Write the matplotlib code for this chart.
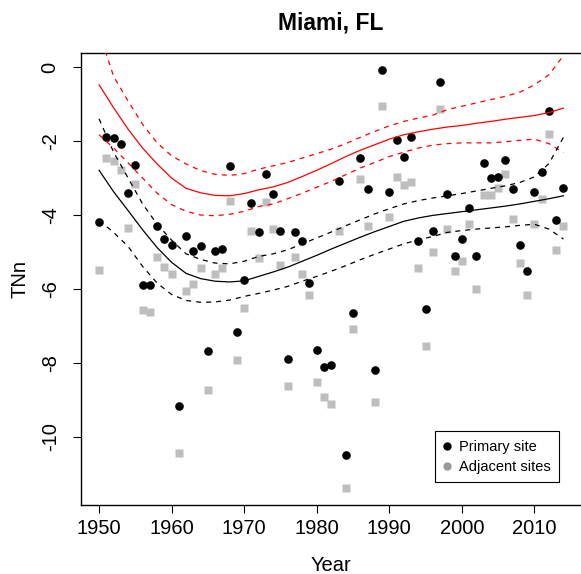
import numpy as np
import matplotlib
matplotlib.use("Agg")
import matplotlib.pyplot as plt

plt.rcParams["font.family"] = ["Liberation Sans", "DejaVu Sans"]

OUT_PNG = "out.png"

# Observed TNn per year
years = np.arange(1950, 2015)
primary = [
    -4.20, -1.88, -1.91, -2.07, -3.41, -2.65, -5.90, -5.90, -4.31, -4.65,
    -4.81, -9.15, -4.57, -4.98, -4.84, -7.69, -4.96, -4.92, -2.67, -7.15,
    -5.76, -3.67, -4.47, -2.88, -3.43, -4.42, -7.89, -4.47, -4.70, -5.85,
    -7.66, -8.11, -8.05, -3.07, -10.50, -6.66, -2.46, -3.29, -8.20, -0.08,
    -3.39, -1.97, -2.42, -1.90, -4.69, -6.55, -4.43, -0.41, -3.44, -5.11,
    -4.64, -3.81, -5.10, -2.59, -3.00, -2.97, -2.50, -3.30, -4.82, -5.52,
    -3.38, -2.83, -1.20, -4.14, -3.26,
]
adjacent = [
    -5.49, -2.47, -2.53, -2.77, -4.36, -3.17, -6.58, -6.62, -5.14, -5.40,
    -5.60, -10.44, -6.05, -5.87, -5.44, -8.73, -5.60, -5.44, -3.63, -7.93,
    -6.52, -4.42, -5.15, -3.66, -4.39, -5.36, -8.62, -5.14, -5.60, -6.17,
    -8.52, -8.93, -9.11, -4.43, -11.39, -7.08, -3.03, -4.30, -9.06, -1.04,
    -4.06, -2.98, -3.20, -3.12, -5.44, -7.55, -5.01, -1.14, -4.39, -5.51,
    -5.25, -4.25, -6.01, -3.47, -3.47, -3.26, -2.90, -4.12, -5.30, -6.17,
    -4.25, -3.56, -1.82, -4.95, -4.30,
]

# Smooth fits (every second year) with their confidence bands
fit_years = np.arange(1950, 2015, 2)
red_fit = [
    -0.48, -1.10, -1.68, -2.19, -2.62, -3.00, -3.28, -3.40, -3.47, -3.48,
    -3.42, -3.32, -3.24, -3.12, -2.96, -2.79, -2.61, -2.42, -2.25, -2.10,
    -1.95, -1.83, -1.75, -1.68, -1.62, -1.58, -1.52, -1.47, -1.41, -1.36,
    -1.31, -1.23, -1.11,
]
red_upper = [
    0.95, -0.25, -0.92, -1.55, -2.05, -2.40, -2.62, -2.80, -2.90, -2.93,
    -2.88, -2.76, -2.67, -2.58, -2.46, -2.34, -2.22, -2.07, -1.90, -1.74,
    -1.59, -1.47, -1.38, -1.30, -1.15, -1.06, -0.97, -0.88, -0.79, -0.68,
    -0.48, -0.21, 0.31,
]
red_lower = [
    -1.83, -2.19, -2.59, -3.00, -3.41, -3.72, -3.90, -4.00, -4.02, -3.98,
    -3.90, -3.77, -3.70, -3.56, -3.41, -3.25, -3.09, -2.91, -2.73, -2.58,
    -2.42, -2.30, -2.19, -2.11, -2.07, -2.05, -2.05, -2.05, -2.02, -1.98,
    -1.95, -2.07, -2.31,
]
black_fit = [
    -2.79, -3.37, -3.88, -4.40, -4.88, -5.28, -5.58, -5.72, -5.79, -5.81,
    -5.78, -5.66, -5.54, -5.41, -5.25, -5.09, -4.92, -4.76, -4.60, -4.45,
    -4.31, -4.17, -4.08, -4.01, -3.96, -3.91, -3.86, -3.81, -3.76, -3.70,
    -3.63, -3.56, -3.48,
]
black_upper = [
    -1.40, -2.30, -3.00, -3.70, -4.25, -4.68, -5.05, -5.20, -5.30, -5.32,
    -5.25, -5.12, -5.05, -4.94, -4.78, -4.62, -4.46, -4.29, -4.13, -3.97,
    -3.83, -3.70, -3.61, -3.54, -3.48, -3.42, -3.35, -3.28, -3.21, -3.12,
    -2.97, -2.61, -1.90,
]
black_lower = [
    -4.15, -4.47, -4.85, -5.39, -5.84, -6.15, -6.31, -6.36, -6.35, -6.30,
    -6.20, -6.12, -6.03, -5.93, -5.79, -5.66, -5.52, -5.37, -5.21, -5.06,
    -4.92, -4.78, -4.67, -4.58, -4.47, -4.42, -4.38, -4.35, -4.32, -4.28,
    -4.25, -4.38, -4.65,
]

x_ticks = [1950, 1960, 1970, 1980, 1990, 2000, 2010]
y_ticks = [0, -2, -4, -6, -8, -10]


def main():
    fig = plt.figure(figsize=(5.81, 5.74), dpi=100)
    ax = fig.add_axes([80.5 / 581, 69 / 574, 501.5 / 581, 452 / 574])

    ax.plot(years, adjacent, linestyle="none", marker="s", ms=5.2,
            mfc="#bebebe", mec="none", zorder=2)
    ax.plot(years, primary, linestyle="none", marker="o", ms=6.2,
            mfc="black", mec="none", zorder=3)

    dash = dict(lw=0.9, dashes=(4, 4))
    ax.plot(fit_years, red_fit, color="red", lw=0.9, zorder=4)
    ax.plot(fit_years, red_upper, color="red", **dash, zorder=4)
    ax.plot(fit_years, red_lower, color="red", **dash, zorder=4)
    ax.plot(fit_years, black_fit, color="black", lw=0.9, zorder=4)
    ax.plot(fit_years, black_upper, color="black", **dash, zorder=4)
    ax.plot(fit_years, black_lower, color="black", **dash, zorder=4)

    ax.set_xlim(1947.44, 2016.56)
    ax.set_ylim(-11.84, 0.38)
    ax.set_xticks(x_ticks)
    ax.set_yticks(y_ticks)
    ax.set_yticklabels([str(v) for v in y_ticks], rotation=90, va="center")
    ax.tick_params(direction="out", length=6, width=0.8, labelsize=14.5)
    ax.tick_params(axis="x", pad=4)
    ax.tick_params(axis="y", pad=9)
    for s in ax.spines.values():
        s.set_linewidth(1.0)

    ax.set_xlabel("Year", fontsize=14.5, labelpad=13)
    ax.set_ylabel("TNn", fontsize=14.5, labelpad=8)
    ax.set_title("Miami, FL", fontsize=16.5, fontweight="bold", pad=17)

    # legend
    h1, = ax.plot([], [], linestyle="none", marker="o", ms=6, mfc="black", mec="none")
    h2, = ax.plot([], [], linestyle="none", marker="o", ms=6, mfc="#999999", mec="none")
    leg = ax.legend([h1, h2], ["Primary site", "Adjacent sites"],
                    loc="lower right", bbox_to_anchor=(0.955, 0.05),
                    borderaxespad=0, fontsize=10.5, fancybox=False,
                    framealpha=1, edgecolor="black", handlelength=0.5,
                    handletextpad=0.55, borderpad=0.6, labelspacing=0.4)
    leg.get_frame().set_linewidth(0.8)

    fig.savefig(OUT_PNG, dpi=100)


if __name__ == "__main__":
    main()
